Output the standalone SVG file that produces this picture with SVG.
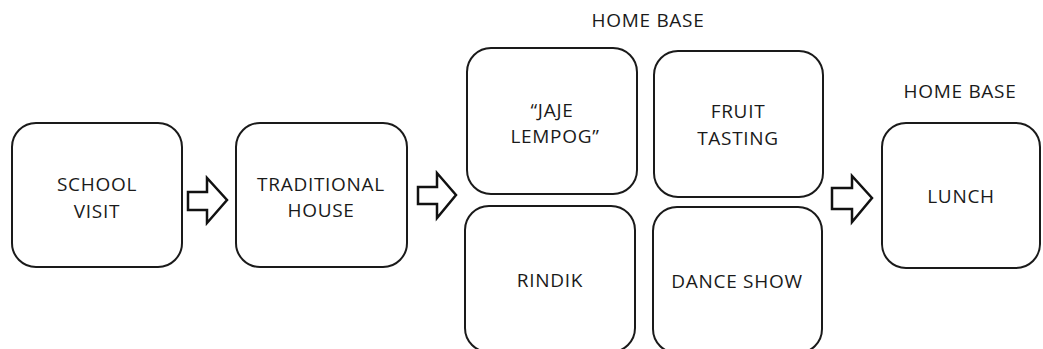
<svg xmlns="http://www.w3.org/2000/svg" width="1043" height="349" viewBox="0 0 1043 349">
<style>
.box{fill:#fff;stroke:#1a1a1a;stroke-width:2}
.arr{fill:#fff;stroke:#111;stroke-width:2.5;stroke-linejoin:miter}
text{font-family:"Open Sans","Liberation Sans",sans-serif;font-size:19px;fill:#1a1a1a;text-anchor:middle;letter-spacing:0.7px}
</style>
<rect width="1043" height="349" fill="#fff"/>
<g id="connectors">
<polygon class="arr" points="188,192 207,192 207,178 227,200 207,223 207,210 188,210"/>
<polygon class="arr" points="418,187 437,187 437,173 456,195 437,218 437,204 418,204"/>
<polygon class="arr" points="832,188 852,188 852,176 872,198 852,222 852,209 832,209"/>
</g>
<g id="label-home-base-1"><text x="648" y="27">HOME BASE</text></g>
<g id="label-home-base-2"><text x="960" y="98">HOME BASE</text></g>
<g id="school-visit">
<rect class="box" x="12" y="123" width="170" height="144" rx="24"/>
<text x="97" y="191">SCHOOL</text><text x="97" y="218">VISIT</text>
</g>
<g id="traditional-house">
<rect class="box" x="236" y="123" width="171" height="144" rx="24"/>
<text x="321" y="191">TRADITIONAL</text><text x="321" y="217">HOUSE</text>
</g>
<g id="jaje-lempog">
<rect class="box" x="467" y="48" width="170" height="146" rx="24"/>
<text x="552" y="117">“JAJE</text><text x="555" y="143">LEMPOG”</text>
</g>
<g id="fruit-tasting">
<rect class="box" x="654" y="51" width="169" height="146" rx="24"/>
<text x="738" y="118">FRUIT</text><text x="738" y="145">TASTING</text>
</g>
<g id="rindik">
<rect class="box" x="465" y="206" width="170" height="146" rx="24"/>
<text x="550" y="287">RINDIK</text>
</g>
<g id="dance-show">
<rect class="box" x="653" y="207" width="169" height="146" rx="24"/>
<text x="737" y="288">DANCE SHOW</text>
</g>
<g id="lunch">
<rect class="box" x="882" y="123" width="158" height="145" rx="24"/>
<text x="961" y="203">LUNCH</text>
</g>
</svg>
